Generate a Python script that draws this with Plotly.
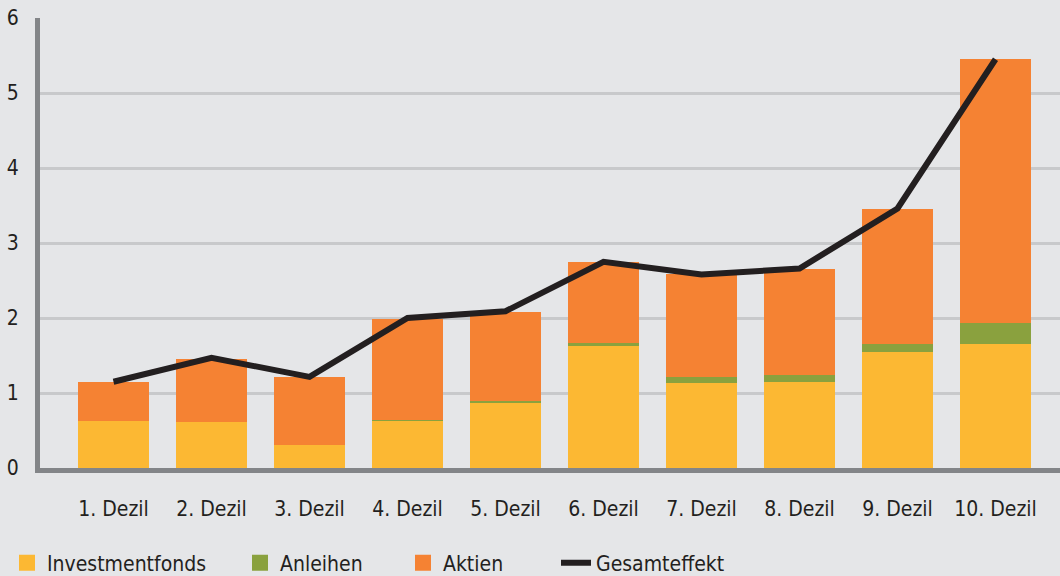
import plotly.graph_objects as go

# Dezile der Vermögensverteilung
kategorien = ["1. Dezil", "2. Dezil", "3. Dezil", "4. Dezil", "5. Dezil",
              "6. Dezil", "7. Dezil", "8. Dezil", "9. Dezil", "10. Dezil"]

# Beiträge je Anlageklasse
investmentfonds = [0.63, 0.62, 0.31, 0.63, 0.87, 1.63, 1.13, 1.15, 1.55, 1.66]
anleihen = [0.0, 0.0, 0.0, 0.015, 0.025, 0.04, 0.09, 0.095, 0.11, 0.27]
aktien = [0.52, 0.84, 0.91, 1.345, 1.19, 1.08, 1.37, 1.415, 1.80, 3.52]

# Gesamteffekt
gesamteffekt = [1.15, 1.47, 1.215, 2.0, 2.09, 2.75, 2.58, 2.66, 3.46, 5.45]

y_ticks = [0, 1, 2, 3, 4, 5, 6]

FONT = "Liberation Sans Narrow, DejaVu Sans Condensed, sans-serif"
TEXT = "#231F20"
BG = "#E5E6E8"
W, H = 1060, 576

serien = [
    ("Investmentfonds", investmentfonds, "#FCB833", "legend"),
    ("Anleihen", anleihen, "#8AA13E", "legend2"),
    ("Aktien", aktien, "#F58233", "legend3"),
]

fig = go.Figure()
for name, werte, farbe, leg_id in serien:
    fig.add_trace(go.Bar(x=kategorien, y=werte, name=name,
                         marker=dict(color=farbe, line=dict(width=0)),
                         width=0.724, showlegend=False))
    # larger square swatch for the legend entry
    fig.add_trace(go.Scatter(x=[None], y=[None], name=name, mode="markers",
                             marker=dict(symbol="square", size=16, color=farbe),
                             legend=leg_id, hoverinfo="skip"))

fig.add_trace(go.Scatter(x=kategorien, y=gesamteffekt, name="Gesamteffekt",
                         mode="lines", line=dict(color=TEXT, width=6),
                         legend="legend4"))

def leg(px):
    return dict(orientation="h", x=px / W, xref="container", xanchor="left",
                y=13 / H, yref="container", yanchor="middle",
                bgcolor="rgba(0,0,0,0)", borderwidth=0, itemsizing="trace",
                font=dict(family=FONT, size=21, color=TEXT))

fig.update_layout(
    width=W, height=H,
    margin=dict(l=40, r=0, t=18, b=108),
    paper_bgcolor=BG, plot_bgcolor=BG,
    barmode="stack", bargap=0.276,
    font=dict(family=FONT, size=21, color=TEXT),
    showlegend=True,
    legend=leg(7),
    legend2=leg(240),
    legend3=leg(403),
    legend4=leg(556),
    xaxis=dict(range=[-0.75, 9.658], showgrid=False, zeroline=False,
               showline=True, linecolor="#838588", linewidth=5,
               ticks="", ticklabelstandoff=18,
               tickfont=dict(family=FONT, size=21, color=TEXT)),
    yaxis=dict(range=[0, 6], tickvals=y_ticks, showgrid=True,
               gridcolor="#C8C9CB", gridwidth=3, zeroline=False,
               showline=True, linecolor="#838588", linewidth=5,
               ticks="", ticklabelstandoff=12,
               tickfont=dict(family=FONT, size=21, color=TEXT)),
)

fig.write_html("out.html")
